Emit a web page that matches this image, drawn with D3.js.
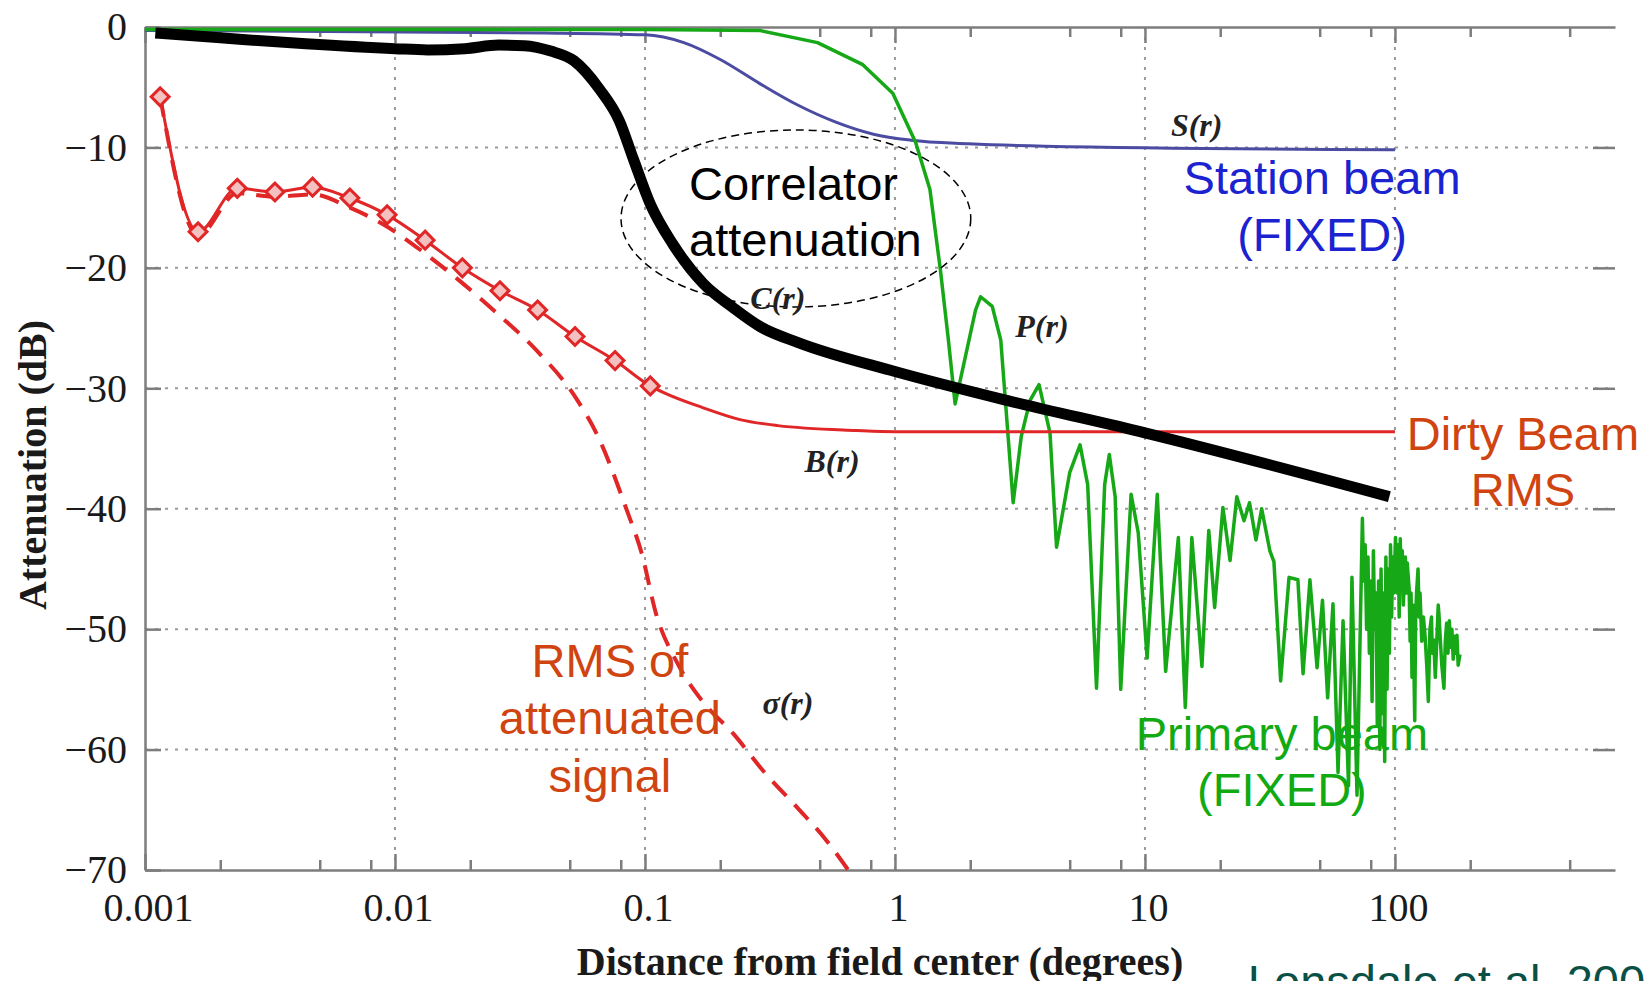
<!DOCTYPE html>
<html>
<head>
<meta charset="utf-8">
<script src="https://cdnjs.cloudflare.com/ajax/libs/d3/7.8.5/d3.min.js"></script>
<style>
  body { margin: 0; background: #fff; }
  svg { display: block; }
</style>
</head>
<body>
<div class="chart"></div>
<script>
var width = 1646, height = 981;
var plot = { left: 145, right: 1615, top: 27, bottom: 870 };

// axis ticks
var xTickValues = [0.001, 0.01, 0.1, 1, 10, 100];
var xTickLabels = ['0.001', '0.01', '0.1', '1', '10', '100'];
var xMinorTicks = [0.002, 0.005, 0.008, 0.02, 0.05, 0.08, 0.2, 0.5, 0.8, 2, 5, 8, 20, 50, 80, 200, 500];
var yTickValues = [0, -10, -20, -30, -40, -50, -60, -70];
var yTickLabels = ['0', '\u221210', '\u221220', '\u221230', '\u221240', '\u221250', '\u221260', '\u221270'];

// C(r): correlator attenuation [degrees, dB]
var corrAtten = [[0.0011, -0.5], [0.002, -0.9], [0.0044, -1.4], [0.01, -1.8], [0.0135, -1.9],
  [0.019, -1.8], [0.026, -1.5], [0.033, -1.55], [0.042, -2.0], [0.052, -2.8], [0.066, -5.2],
  [0.079, -7.8], [0.09, -11], [0.105, -14.7], [0.129, -18], [0.171, -21.3], [0.225, -23.3],
  [0.29, -24.9], [0.41, -26.2], [1.0, -28.6], [2.8, -31.0], [10, -33.7], [95, -39.0]];

// S(r): station beam
var stationBeam = [[0.001, -0.3], [0.04, -0.5], [0.1, -0.65], [0.143, -1.3], [0.2, -2.7],
  [0.288, -4.7], [0.41, -6.5], [0.58, -7.9], [0.82, -8.9], [1.16, -9.4], [1.97, -9.7],
  [3.98, -9.9], [100, -10.2]];

// P(r): primary beam
var primaryBeam = [[0.001, -0.2], [0.1, -0.2], [0.29, -0.3], [0.49, -1.3], [0.74, -3.1],
  [0.98, -5.5], [1.21, -9.6], [1.38, -13.5], [1.52, -20.2], [1.63, -25.7], [1.74, -31.3],
  [2.1, -23.5], [2.2, -22.4], [2.45, -23.2], [2.65, -26], [2.97, -39.5], [3.2, -34],
  [3.47, -31], [3.77, -29.7], [4.17, -33.7], [4.43, -43.2], [5.0, -37], [5.5, -34.7],
  [5.9, -38], [6.4, -54.9], [6.9, -38], [7.2, -35.5], [7.6, -39], [8.0, -55], [8.8, -38.8],
  [9.4, -42], [10.2, -52.4], [11.2, -38.8], [12.1, -53.5], [13.6, -42.4], [14.5, -56.5],
  [15.4, -42.4], [16.9, -53.1], [18.0, -41.8], [19.0, -48.2], [20.5, -39.9], [21.9, -44.3],
  [23.3, -39.0], [24.9, -41.0], [26.2, -39.5], [27.8, -42.6], [29.3, -40], [31.6, -43.5],
  [32.8, -44.4], [34.9, -54.3], [37.7, -45.7], [40.9, -45.9], [42.9, -53.7], [45.7, -45.9],
  [48.8, -53.2], [51.3, -47.6], [53.8, -55.7], [56.5, -47.9], [59.2, -61.9], [62, -49.3],
  [65.2, -63], [67.3, -45.7], [70.5, -63.8], [74.1, -40.8], [75, -46], [76, -43], [77, -50],
  [78, -44], [79, -52], [80, -46], [81, -56], [82, -43.5], [83, -50], [84, -47], [85, -58],
  [86, -46], [87, -60], [88, -45], [89, -57], [90, -47], [91, -61], [92, -44], [93, -55],
  [94, -45], [95, -52], [96, -43], [97, -49], [98, -44], [99, -47], [100.5, -42.4],
  [102, -47], [103, -43], [104, -49], [105, -42.5], [106, -46], [107, -43.5], [108, -48],
  [110, -44], [111, -47], [112, -44.5], [114, -46.7], [115, -51], [116, -47], [117, -54],
  [118, -48], [120, -57.6], [121, -49], [122, -47], [123.7, -45], [125, -49], [126, -47],
  [128, -51], [130, -49], [132, -50.6], [134, -53], [136, -56], [138, -50], [140, -49],
  [141, -52], [143, -50.9], [145, -54], [147, -51], [149, -48], [150, -48.8], [152, -51],
  [154, -53], [157, -54.9], [159, -51], [161, -49.5], [163, -52], [165, -49.3], [167, -51.5],
  [169, -50], [171, -52.5], [173, -50.6], [175, -52], [177, -50.5], [179, -53], [182, -52.1]];

// B(r): dirty beam RMS (first 14 points carry diamond markers)
var dirtyBeam = [[0.00115, -5.8], [0.00163, -17.0], [0.00234, -13.4], [0.00331, -13.7],
  [0.00468, -13.3], [0.0066, -14.2], [0.0093, -15.6], [0.0132, -17.7], [0.0186, -20.0],
  [0.0263, -21.9], [0.0372, -23.5], [0.0525, -25.7], [0.0759, -27.7], [0.105, -29.8],
  [0.12, -30.4], [0.17, -31.6], [0.24, -32.6], [0.34, -33.1], [0.7, -33.5], [1, -33.6],
  [100, -33.6]];
var dirtyBeamMarkerCount = 14;

// sigma(r): RMS of attenuated signal
var attenuatedRMS = [[0.00115, -5.8], [0.00163, -17.3], [0.00234, -13.8], [0.00331, -14.1],
  [0.00468, -13.9], [0.0066, -15.0], [0.009, -16.4], [0.0128, -18.6], [0.0182, -21.1],
  [0.026, -23.9], [0.037, -26.9], [0.0529, -30.8], [0.0652, -34.1], [0.0845, -40.1],
  [0.097, -43.7], [0.111, -48.8], [0.133, -52.6], [0.17, -56], [0.226, -58.7],
  [0.298, -61.8], [0.41, -64.9], [0.525, -67.4], [0.65, -70]];

// dashed ellipse round the correlator drop
var ellipseXSpan = [0.0802, 2.01];
var ellipseDbSpan = [-8.55, -23.25];

var curveLabels = [
  { text: 'S(r)', x: 16.1, y: -8.1 },
  { text: 'C(r)', x: 0.34, y: -22.5 },
  { text: 'P(r)', x: 3.87, y: -24.8 },
  { text: 'B(r)', x: 0.56, y: -36.0 },
  { text: '\u03c3(r)', x: 0.373, y: -56.1 }
];

var notes = [
  { lines: ['Correlator', 'attenuation'], x: 0.15, y: [-14.4, -19.0], color: '#000', anchor: 'start' },
  { lines: ['Station beam', '(FIXED)'], x: 51.1, y: [-13.9, -18.6], color: '#1b22cf', anchor: 'middle' },
  { lines: ['Dirty Beam', 'RMS'], x: 325, y: [-35.1, -39.8], color: '#cf4410', anchor: 'middle' },
  { lines: ['RMS of', 'attenuated', 'signal'], x: 0.0724, y: [-54.0, -58.7, -63.5], color: '#cf4410', anchor: 'middle' },
  { lines: ['Primary beam', '(FIXED)'], x: 35.3, y: [-60.0, -64.7], color: '#12aa12', anchor: 'middle' },
  { lines: ['Lonsdale et al. 2004'], x: 25.8, y: [-80.6], color: '#0b5046', anchor: 'start' }
];

var svg = d3.select('.chart')
  .append('svg')
    .attr('width', width)
    .attr('height', height);

svg.append('rect').attr('width', width).attr('height', height).attr('fill', '#fff');

var xScale = d3.scaleLog()
  .domain([0.001, 759])
  .range([plot.left, plot.right]);

var yScale = d3.scaleLinear()
  .domain([-70, 0])
  .range([plot.bottom, plot.top]);

var serif = '"Liberation Serif", "Times New Roman", serif';
var sans = '"Liberation Sans", Arial, Helvetica, sans-serif';

// grid
var grid = svg.append('g').attr('stroke', '#9a9a9a').attr('stroke-width', 2).attr('stroke-dasharray', '3,7');
grid.selectAll('.vgrid')
  .data(xTickValues.slice(1))
  .enter().append('line')
    .attr('x1', d => xScale(d)).attr('x2', d => xScale(d))
    .attr('y1', plot.top).attr('y2', plot.bottom);
grid.selectAll('.hgrid')
  .data(yTickValues.slice(1, -1))
  .enter().append('line')
    .attr('x1', plot.left).attr('x2', plot.right)
    .attr('y1', d => yScale(d)).attr('y2', d => yScale(d));

function styleAxis(g) {
  g.attr('font-family', serif).attr('font-size', 40);
  g.selectAll('path, line').attr('stroke', '#7d7d7d').attr('stroke-width', 2.5);
  g.selectAll('text').attr('fill', '#1a1a1a');
}

// bottom axis
svg.append('g')
  .attr('transform', `translate(0, ${plot.bottom})`)
  .call(d3.axisBottom(xScale).tickValues(xTickValues).tickSize(-16).tickSizeOuter(0).tickPadding(23)
    .tickFormat((d, i) => xTickLabels[i]))
  .call(styleAxis)
  .call(g => g.selectAll('text').attr('dx', 3));
svg.append('g')
  .attr('transform', `translate(0, ${plot.bottom})`)
  .call(d3.axisBottom(xScale).tickValues(xMinorTicks).tickSize(-10).tickFormat(''))
  .call(styleAxis)
  .call(g => g.select('.domain').remove());

// top axis
svg.append('g')
  .attr('transform', `translate(0, ${plot.top})`)
  .call(d3.axisTop(xScale).tickValues(xTickValues).tickSize(-16).tickSizeOuter(0).tickFormat(''))
  .call(styleAxis);
svg.append('g')
  .attr('transform', `translate(0, ${plot.top})`)
  .call(d3.axisTop(xScale).tickValues(xMinorTicks).tickSize(-10).tickFormat(''))
  .call(styleAxis)
  .call(g => g.select('.domain').remove());

// left axis
svg.append('g')
  .attr('transform', `translate(${plot.left}, 0)`)
  .call(d3.axisLeft(yScale).tickValues(yTickValues).tickSize(-16).tickSizeOuter(0).tickPadding(18)
    .tickFormat((d, i) => yTickLabels[i]))
  .call(styleAxis);

// right side: ticks only, the frame line is cut off in the original
svg.append('g')
  .attr('transform', `translate(${plot.right}, 0)`)
  .call(d3.axisRight(yScale).tickValues(yTickValues.slice(1, -1)).tickSize(-22).tickFormat(''))
  .call(styleAxis)
  .call(g => g.select('.domain').remove());

// axis titles
svg.append('text')
  .attr('x', (plot.left + plot.right) / 2)
  .attr('y', 975)
  .attr('text-anchor', 'middle')
  .attr('font-family', serif).attr('font-weight', 'bold').attr('font-size', 40)
  .attr('fill', '#1a1a1a')
  .text('Distance from field center (degrees)');

svg.append('text')
  .attr('transform', 'translate(46, 465) rotate(-90)')
  .attr('text-anchor', 'middle')
  .attr('font-family', serif).attr('font-weight', 'bold').attr('font-size', 40)
  .attr('fill', '#1a1a1a')
  .text('Attenuation (dB)');

var line = d3.line()
  .x(d => xScale(d[0]))
  .y(d => yScale(d[1]));

// station beam
svg.append('path')
  .attr('d', line.curve(d3.curveMonotoneX)(stationBeam))
  .attr('fill', 'none').attr('stroke', '#4b4ba2').attr('stroke-width', 3);

// primary beam
svg.append('path')
  .attr('d', line.curve(d3.curveLinear)(primaryBeam))
  .attr('fill', 'none').attr('stroke', '#16a816').attr('stroke-width', 3.5)
  .attr('stroke-linejoin', 'round');

// sigma(r) dashed
svg.append('path')
  .attr('d', line.curve(d3.curveMonotoneX)(attenuatedRMS))
  .attr('fill', 'none').attr('stroke', '#e02626').attr('stroke-width', 4)
  .attr('stroke-dasharray', '20,12');

// B(r) solid with diamonds
svg.append('path')
  .attr('d', line.curve(d3.curveMonotoneX)(dirtyBeam))
  .attr('fill', 'none').attr('stroke', '#e02626').attr('stroke-width', 3);

svg.selectAll('.diamond')
  .data(dirtyBeam.slice(0, dirtyBeamMarkerCount))
  .enter().append('path')
    .attr('class', 'diamond')
    .attr('d', d3.symbol(d3.symbolSquare).size(160))
    .attr('transform', d => `translate(${xScale(d[0])}, ${yScale(d[1])}) rotate(45)`)
    .attr('fill', '#f5c0c0').attr('stroke', '#e02626').attr('stroke-width', 3);

// correlator attenuation, heavy black
svg.append('path')
  .attr('d', line.curve(d3.curveMonotoneX)(corrAtten))
  .attr('fill', 'none').attr('stroke', '#000').attr('stroke-width', 11)
  .attr('stroke-linejoin', 'round');

// dashed ellipse
var ex0 = xScale(ellipseXSpan[0]), ex1 = xScale(ellipseXSpan[1]);
var ey0 = yScale(ellipseDbSpan[0]), ey1 = yScale(ellipseDbSpan[1]);
svg.append('ellipse')
  .attr('cx', (ex0 + ex1) / 2).attr('cy', (ey0 + ey1) / 2)
  .attr('rx', (ex1 - ex0) / 2).attr('ry', (ey1 - ey0) / 2)
  .attr('fill', 'none').attr('stroke', '#000').attr('stroke-width', 1.5)
  .attr('stroke-dasharray', '8,5');

// curve names
svg.selectAll('.curve-label')
  .data(curveLabels)
  .enter().append('text')
    .attr('x', d => xScale(d.x))
    .attr('y', d => yScale(d.y))
    .attr('dy', '0.35em')
    .attr('text-anchor', 'middle')
    .attr('font-family', serif).attr('font-style', 'italic').attr('font-weight', 'bold')
    .attr('font-size', 32).attr('fill', '#222')
    .text(d => d.text);

// annotations
notes.forEach(function (n) {
  n.lines.forEach(function (t, i) {
    svg.append('text')
      .attr('x', xScale(n.x))
      .attr('y', yScale(n.y[i]))
      .attr('text-anchor', n.anchor)
      .attr('font-family', sans).attr('font-size', 47)
      .attr('fill', n.color)
      .text(t);
  });
});
</script>
</body>
</html>
